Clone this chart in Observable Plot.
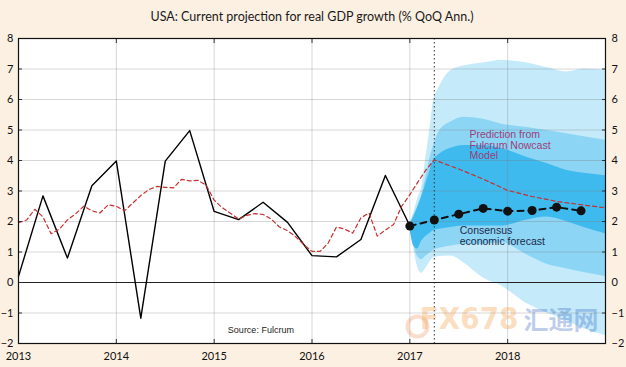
<!DOCTYPE html>
<html><head><meta charset="utf-8">
<script src="https://cdn.jsdelivr.net/npm/d3@7"></script>
<script src="https://cdn.jsdelivr.net/npm/@observablehq/plot@0.6"></script>
<style>
html,body{margin:0;padding:0;background:#fcf0e2;}
#chart{width:626px;height:367px;}
</style></head><body><div id="chart"></div>
<script>
const title = "USA: Current projection for real GDP growth (% QoQ Ann.)";
const yearTicks = [2013, 2014, 2015, 2016, 2017, 2018];
const yTicks = [-2, -1, 0, 1, 2, 3, 4, 5, 6, 7, 8];

// Actual GDP growth, quarterly
const histQuarters = [2013.0, 2013.25, 2013.5, 2013.75, 2014.0, 2014.25, 2014.5, 2014.75, 2015.0, 2015.25, 2015.5, 2015.75, 2016.0, 2016.25, 2016.5, 2016.75, 2017.0];
const histGDP = [0.2, 2.84, 0.8, 3.17, 3.98, -1.17, 3.98, 4.98, 2.33, 2.06, 2.63, 1.97, 0.88, 0.84, 1.41, 3.51, 1.86];

// Fulcrum nowcast, monthly from Jan 2013 to Apr 2017
const nowcastStart = 2013;
const nowcastMonthly = [
  1.96, 2.05, 2.4, 2.15, 1.6, 1.75, 2.05, 2.25, 2.5, 2.35, 2.28, 2.55,
  2.5, 2.35, 2.6, 2.85, 3.05, 3.15, 3.12, 3.1, 3.38, 3.33, 3.35, 3.2,
  2.7, 2.45, 2.27, 2.08, 2.2, 2.26, 2.23, 2.08, 1.82, 1.7, 1.5, 1.24,
  1.02, 1.02, 1.3, 1.82, 1.75, 1.62, 2.12, 2.28, 1.52, 1.72, 1.9, 2.5,
  2.88, 3.3, 3.7, 4.02
];
// Nowcast model projection
const projQuarters = [2017.25, 2017.5, 2017.75, 2018.0, 2018.25, 2018.5, 2018.75, 2019.0];
const projValues = [4.02, 3.72, 3.39, 3.02, 2.82, 2.66, 2.55, 2.45];

// Consensus economic forecast
const consQuarters = [2017.0, 2017.25, 2017.5, 2017.75, 2018.0, 2018.25, 2018.5, 2018.75];
const consValues = [1.85, 2.05, 2.24, 2.43, 2.34, 2.36, 2.47, 2.35];

const nowcastDate = 2017.25;

// Fan chart bands
const bandX   = [2017.0, 2017.04, 2017.08, 2017.12, 2017.16, 2017.2, 2017.24, 2017.3, 2017.42, 2017.55, 2017.75, 2017.93, 2018.2, 2018.4, 2018.6, 2018.78, 2019.0];
const outerHi = [1.9, 2.3, 2.75, 3.1, 4.0, 4.9, 5.9, 6.4, 6.95, 7.1, 7.2, 7.28, 7.2, 7.05, 6.9, 7.0, 6.96];
const outerLo = [1.8, 1.1, 0.5, 0.3, 0.45, 0.65, 0.8, 0.85, 0.87, 0.65, 0.15, -0.1, -0.7, -1.0, -1.25, -1.52, -1.74];
const midHi   = [1.9, 2.2, 2.5, 2.85, 3.4, 4.0, 4.45, 4.95, 5.26, 5.42, 5.35, 5.2, 5.08, 4.98, 4.88, 4.78, 4.66];
const midLo   = [1.8, 1.25, 0.85, 0.75, 0.85, 0.95, 1.05, 1.12, 1.2, 1.25, 1.25, 1.3, 0.9, 0.6, 0.45, 0.33, 0.2];
const innerHi = [1.9, 2.15, 2.45, 2.8, 3.2, 3.6, 4.0, 4.2, 4.4, 4.49, 4.49, 4.4, 4.1, 3.9, 3.68, 3.58, 3.5];
const innerLo = [1.8, 1.2, 1.1, 1.35, 1.5, 1.6, 1.7, 1.75, 1.8, 1.85, 1.85, 1.85, 2.05, 2.15, 2.0, 1.8, 1.6];

const annotations = [
  {x: 2017.61, y: 4.98, text: "Prediction from\nFulcrum Nowcast\nModel", fill: "#9c3d78"},
  {x: 2017.51, y: 1.82, text: "Consensus\neconomic forecast", fill: "#1c2b4a"}
];
const source = {x: 2015.14, y: -1.57, text: "Source: Fulcrum"};

// tables
const hist = histQuarters.map((x, i) => ({x, y: histGDP[i]}));
const nowcast = nowcastMonthly.map((y, i) => ({x: nowcastStart + i / 12, y}))
  .concat(projQuarters.slice(1).map((x, i) => ({x, y: projValues[i + 1]})));
const cons = consQuarters.map((x, i) => ({x, y: consValues[i]}));
const bands = bandX.map((x, i) => ({x, oLo: outerLo[i], oHi: outerHi[i], mLo: midLo[i], mHi: midHi[i], iLo: innerLo[i], iHi: innerHi[i]}));

const chart = Plot.plot({
  width: 626, height: 367,
  marginLeft: 18, marginRight: 21, marginTop: 38, marginBottom: 24,
  style: {background: "transparent", fontFamily: "Lato, sans-serif", fontSize: "11px", color: "#111", overflow: "visible"},
  x: {domain: [2013, 2019]},
  y: {domain: [-2, 8]},
  marks: [
    Plot.frame({fill: "white", stroke: null}),
    Plot.areaY(bands, {x: "x", y1: "oLo", y2: "oHi", fill: "#c5eafa", curve: "monotone-x"}),
    Plot.areaY(bands, {x: "x", y1: "mLo", y2: "mHi", fill: "#8cd5f5", curve: "monotone-x"}),
    Plot.areaY(bands, {x: "x", y1: "iLo", y2: "iHi", fill: "#3fbaee", curve: "monotone-x"}),
    Plot.gridY(yTicks.slice(1, -1), {stroke: "#777", strokeOpacity: 0.3}),
    Plot.gridX(yearTicks.slice(1), {stroke: "#777", strokeOpacity: 0.3}),
    Plot.ruleY([0], {stroke: "#222", strokeWidth: 1.2}),
    Plot.ruleX([nowcastDate], {stroke: "#333", strokeDasharray: "1.5,2.5", strokeWidth: 1}),
    Plot.line(hist, {x: "x", y: "y", stroke: "#000", strokeWidth: 1.4}),
    Plot.line(nowcast, {x: "x", y: "y", stroke: "#c6302e", strokeDasharray: "4,3", strokeWidth: 1.2}),
    Plot.line(cons, {x: "x", y: "y", stroke: "#111", strokeDasharray: "6,5", strokeWidth: 2}),
    Plot.dot(cons, {x: "x", y: "y", r: 4.5, fill: "#111"}),
    Plot.text(annotations, {x: "x", y: "y", text: "text", fill: "fill", textAnchor: "start", lineAnchor: "top", lineHeight: 1.0, fontSize: 10.5, fontFamily: "Liberation Sans, Arial, sans-serif"}),
    Plot.text([source], {x: "x", y: "y", text: "text", textAnchor: "start", fontSize: 9, fill: "#222", fontFamily: "Liberation Sans, Arial, sans-serif"}),
    // watermark
    Plot.dot([0], {frameAnchor: "bottom-left", dx: 399, dy: -17, r: 10, stroke: "#f08a5a", strokeWidth: 4, strokeOpacity: 0.3, fill: "none"}),
    Plot.text(["FX678"], {frameAnchor: "bottom-right", dx: -87, dy: -15, textAnchor: "end", fontSize: 31, fontWeight: "bold", fill: "#f5a04a", fillOpacity: 0.35, fontFamily: "DejaVu Sans Condensed, sans-serif"}),
    Plot.text(["汇通网"], {frameAnchor: "bottom-right", dx: -7, dy: -15, textAnchor: "end", fontSize: 25, fontWeight: "bold", fill: "#3f6fc4", fillOpacity: 0.35, fontFamily: "Noto Sans CJK SC, sans-serif"}),
    // axes
    Plot.axisY(yTicks, {anchor: "left", tickSize: -4, tickPadding: 9, label: null, stroke: "#333"}),
    Plot.axisY(yTicks, {anchor: "right", tickSize: -4, tickPadding: 10, label: null, stroke: "#333"}),
    Plot.axisX(yearTicks, {anchor: "bottom", tickSize: -4, tickPadding: 13, tickFormat: d => String(d), label: null, stroke: "#333"}),
    Plot.axisX(yearTicks, {anchor: "top", tickSize: -4, tickFormat: () => "", label: null, stroke: "#333"}),
    Plot.text([title], {frameAnchor: "top", dy: -26, fontSize: 12.5, fill: "#1a1a1a"}),
    Plot.frame({stroke: "#111", strokeWidth: 1.2})
  ]
});
document.getElementById("chart").appendChild(chart);
</script>
</body></html>
